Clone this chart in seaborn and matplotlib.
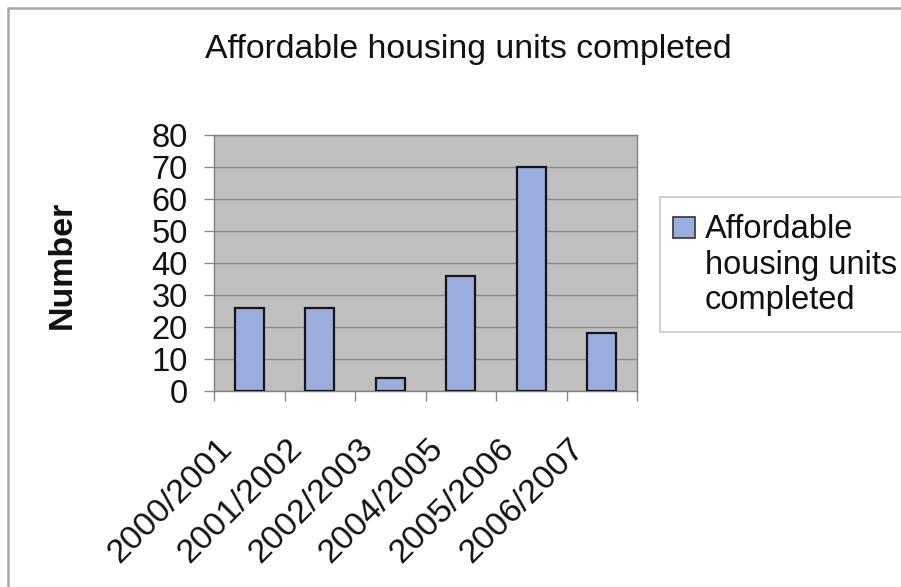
import matplotlib
matplotlib.use("Agg")
import matplotlib.pyplot as plt
from matplotlib.lines import Line2D
from matplotlib.patches import Rectangle
from matplotlib.transforms import ScaledTranslation
import seaborn as sns
import pandas as pd

# Completed affordable housing units per financial year
years = ["2000/2001", "2001/2002", "2002/2003", "2004/2005", "2005/2006", "2006/2007"]
units = [26, 26, 4, 36, 70, 18]
y_ticks = [0, 10, 20, 30, 40, 50, 60, 70, 80]

title_text = "Affordable housing units completed"
y_label = "Number"
series_label = "Affordable\nhousing units\ncompleted"

sns.set_theme(style="white")
plt.rcParams["font.family"] = ["Liberation Sans", "DejaVu Sans"]

bar_fill = "#9BADDF"
plot_bg = "#C0C0C0"
grid_col = "#8A8A8A"
frame_col = "#A8A8A8"
text_col = "#111111"

fig = plt.figure(figsize=(9.01, 5.87), dpi=100)
W, H = 901, 587
ax = fig.add_axes([214 / W, 1 - 391 / H, (637 - 214) / W, (391 - 135) / H])
ax.set_facecolor(plot_bg)

df = pd.DataFrame({"year": years, "units": units})
sns.barplot(data=df, x="year", y="units", order=years, color=bar_fill,
            saturation=1, width=0.41, edgecolor="#151515", linewidth=1.6,
            ax=ax, zorder=3)

ax.set_xlim(-0.5, len(years) - 0.5)
ax.set_ylim(0, 80)
ax.set_yticks(y_ticks)
ax.set_yticklabels([str(v) for v in y_ticks])
ax.yaxis.grid(True, color=grid_col, linewidth=1.0, zorder=0)
ax.set_axisbelow(True)

# category boundaries carry the tick marks on the x axis
ax.set_xticks(range(len(years)))
ax.set_xticks([i - 0.5 for i in range(len(years) + 1)], minor=True)
ax.set_xticklabels(years, rotation=45, ha="right", va="top",
                   rotation_mode="anchor", fontsize=24.5, color=text_col)
ax.tick_params(axis="x", which="major", length=0, pad=14)
ax.tick_params(axis="x", which="minor", length=7, width=1, color=grid_col,
               direction="out", bottom=True)
ax.tick_params(axis="y", which="major", length=7, width=1, color=grid_col,
               direction="out", left=True, labelsize=23.5, labelcolor=text_col,
               pad=12)

shift = ScaledTranslation(-33 / 100, -22 / 100, fig.dpi_scale_trans)
for lbl in ax.get_xticklabels():
    lbl.set_transform(lbl.get_transform() + shift)

for side in ["left", "right", "top", "bottom"]:
    ax.spines[side].set_color("#808080")
    ax.spines[side].set_linewidth(1.0)

ax.set_xlabel("")
ax.set_ylabel("")
fig.text(62 / W, 1 - 265 / H, y_label, rotation=90, ha="center", va="center",
         fontsize=24.5, fontweight="bold", color=text_col)

fig.text(468 / W, 1 - 58 / H, title_text, ha="center", va="baseline",
         fontsize=24.3, color=text_col)

# legend box
fig.patches.append(Rectangle((660 / W, 1 - 332 / H), (905 - 660) / W, (332 - 197) / H,
                             transform=fig.transFigure, facecolor="white",
                             edgecolor="#C8C8C8", linewidth=1.2))
fig.patches.append(Rectangle((673 / W, 1 - 238 / H), 22 / W, 21 / H,
                             transform=fig.transFigure, facecolor=bar_fill,
                             edgecolor="#333333", linewidth=1.2))
fig.text(705 / W, 1 - 309 / H, series_label, ha="left", va="baseline",
         fontsize=23.5, color=text_col, linespacing=1.18,
         transform=fig.transFigure)

# outer frame lines
fig.add_artist(Line2D([8 / W, 1], [1 - 8 / H, 1 - 8 / H], color=frame_col,
                      linewidth=1.8, transform=fig.transFigure))
fig.add_artist(Line2D([8 / W, 8 / W], [0, 1 - 8 / H], color=frame_col,
                      linewidth=1.8, transform=fig.transFigure))

fig.savefig("out.png", dpi=100)
